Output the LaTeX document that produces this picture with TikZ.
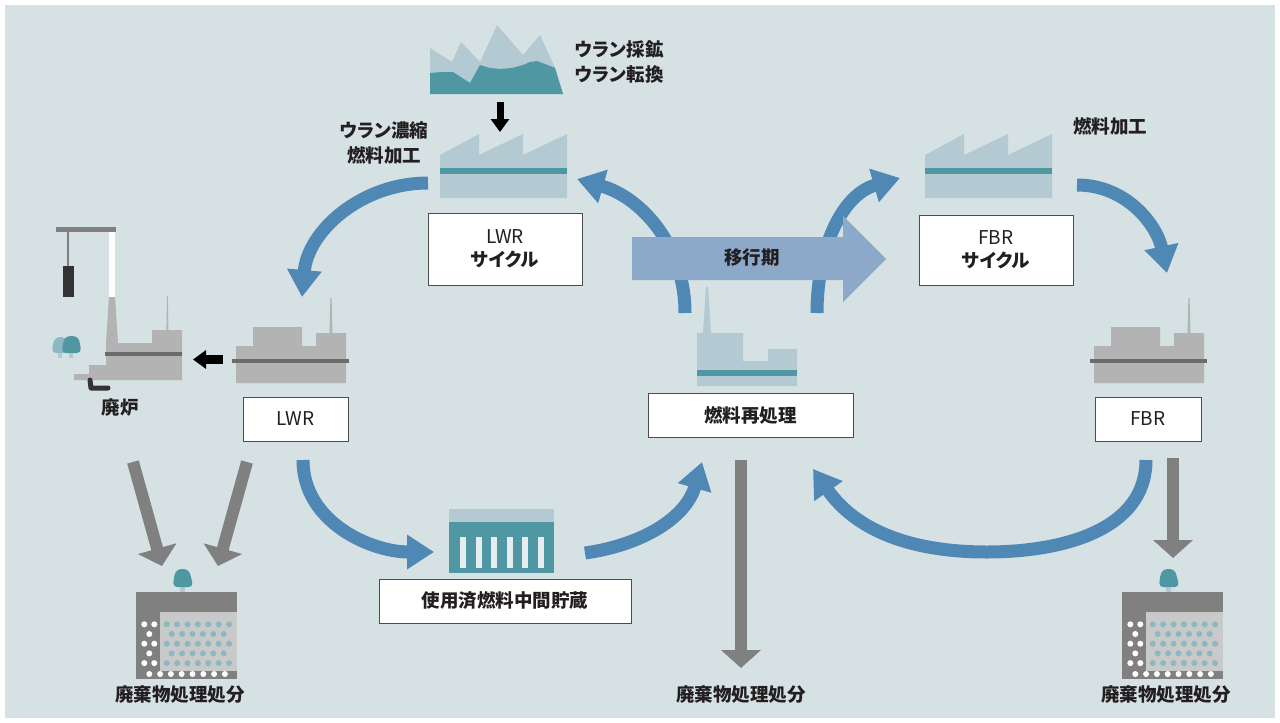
\documentclass[tikz,border=0pt]{standalone}
\usepackage{fontspec}
\setmainfont{Noto Sans CJK JP}[RawFeature={+palt}]
\usepackage{tikz}
\usetikzlibrary{arrows.meta, positioning}

\definecolor{panel}{HTML}{D6E1E3}
\definecolor{flowblue}{HTML}{4F87B5}
\definecolor{shiftblue}{HTML}{8CA9C9}
\definecolor{plantlight}{HTML}{B3CAD3}
\definecolor{plantteal}{HTML}{4F98A3}
\definecolor{treelight}{HTML}{8DB8C3}
\definecolor{reactorgray}{HTML}{B3B3B3}
\definecolor{reactorline}{HTML}{6B6B6B}
\definecolor{wastegray}{HTML}{808080}
\definecolor{vaultlight}{HTML}{C9C9C9}
\definecolor{dotteal}{HTML}{8AB8C4}
\definecolor{inkdark}{HTML}{231F20}

\newcommand{\labelfont}{\fontsize{19}{23}\selectfont}
\newcommand{\capfont}{\fontsize{18.5}{24.5}\selectfont\bfseries}

% fuel plant icon (saw-tooth roof)
\newcommand{\plantshape}{%
  \fill[plantlight] (440,198) -- (440,155) -- (479,134) -- (479,155) -- (523,134) -- (523,155)
    -- (567,134) -- (567,198) -- cycle;
  \fill[plantteal] (440,168) rectangle (567,174);}

% reactor building icon
\newcommand{\reactorshape}{%
  \fill[reactorgray] (236,383) -- (236,346) -- (253,346) -- (253,327) -- (302,327) -- (302,346)
    -- (316,346) -- (316,333) -- (346,333) -- (346,383) -- cycle;
  \fill[reactorgray] (329.5,333) -- (330.4,298) -- (331.6,298) -- (332.5,333) -- cycle;
  \fill[reactorline] (232,359) rectangle (349,363);}

% disposal vault icon
\newcommand{\vaultshape}{%
  \fill[wastegray] (136,592) rectangle (237,679);
  \fill[vaultlight] (160,612) rectangle (237,671);
  \foreach \r in {0,2,4} {
    \foreach \i in {0,...,6} \fill[dotteal] ({166.7+10.4*\i},{624.3+9.7*\r}) circle (3pt);
    \fill[white] (144.3,{624.3+9.7*\r}) circle (3pt) (154.3,{624.3+9.7*\r}) circle (3pt);
  }
  \foreach \r in {1,3} {
    \foreach \i in {0,...,5} \fill[dotteal] ({171.7+10.4*\i},{624.3+9.7*\r}) circle (3pt);
    \fill[white] (149.3,{624.3+9.7*\r}) circle (3pt);
  }
  \foreach \i in {0,...,7} \fill[white] ({149.3+10.8*\i},674) circle (3pt);
  \fill[plantlight] (180,584) rectangle (184.5,592);
  \fill[plantteal, rounded corners=4pt] (173,587) -- (174,576) -- (177,569) -- (188,569)
    -- (191,576) -- (193,587) -- cycle;}

\begin{document}
\begin{tikzpicture}[x=1pt, y=-1pt,
    flow/.style={draw=flowblue, line width=13pt, -{Triangle[width=33pt,length=27pt]}},
    waste/.style={draw=wastegray, line width=12pt, -{Triangle[width=39pt,length=18pt]}},
    push/.style={draw=black, -{Triangle[width=18pt,length=13pt]}},
    box/.style={rectangle, draw=black!70, line width=1pt, fill=white, inner sep=0pt, align=center, font=\labelfont, text=inkdark},
    caption/.style={inner sep=0pt, align=center, font=\capfont, text=inkdark}
]
\useasboundingbox (0,0) rectangle (1280,723);
\fill[white] (0,0) rectangle (1280,723);
\fill[panel] (5,5) rectangle (1275,718);

% mine
\fill[plantlight] (430,94) -- (430,48) -- (452,62) -- (461,42) -- (480,62) -- (497,25) -- (523,55)
  -- (540,35) -- (555,68) -- (563,94) -- cycle;
\fill[plantteal] (430,94) -- (430,73) -- (442,72) -- (453,72) -- (470,83) -- (480,65) -- (490,68)
  -- (500,69) -- (512,68) -- (523,65) -- (530,62) -- (537,61) -- (545,64) -- (555,68) -- (563,94) -- cycle;

% fuel plants
\plantshape
\begin{scope}[shift={(485,0)}]
  \plantshape
\end{scope}

% reactors
\reactorshape
\begin{scope}[shift={(858,0)}]
  \reactorshape
\end{scope}

% reprocessing plant
\fill[plantlight] (697,386) -- (697,333) -- (703,333) -- (706,287) -- (708,287) -- (711,333) -- (743,333)
  -- (743,361) -- (768,361) -- (768,349) -- (797,349) -- (797,386) -- cycle;
\fill[plantteal] (697,370) rectangle (797,376);

% interim storage cask
\fill[plantlight] (449,509) rectangle (554,522);
\fill[plantteal] (449,522) rectangle (554,573);
\foreach \sx in {460,475.5,491,506.5,522,537.5}
  \fill[panel!60!white] (\sx,537) rectangle ++(6,31);

% decommissioned reactor
\fill[wastegray] (56,227) rectangle (116,232);
\draw[wastegray, line width=1.2pt] (68,232) -- (68,266);
\fill[black!80] (63,266) rectangle (74,297);
\fill[white] (109,232) rectangle (115,297);
\fill[reactorgray] (109,297) -- (115,297) -- (118,343) -- (106,343) -- cycle;
\fill[reactorgray] (166.4,330) -- (167,296) -- (167.8,296) -- (168.4,330) -- cycle;
\fill[reactorgray] (106,343) -- (152,343) -- (152,330) -- (182,330) -- (182,380) -- (74,380)
  -- (74,374) -- (89,374) -- (89,365) -- (106,365) -- cycle;
\fill[reactorline] (105,352) rectangle (182,356);
\draw[black!80, line width=5pt, line cap=round, line join=round] (90,380) -- (91,388) -- (108,388);
\fill[plantlight] (58,351) rectangle (62,358);
\fill[treelight, rounded corners=4pt] (52,353) -- (53,343) -- (56,337) -- (65,337) -- (68,343) -- (69,353) -- cycle;
\fill[plantlight] (69,351) rectangle (73,358);
\fill[plantteal, rounded corners=4pt] (62,353) -- (63,342) -- (66,336) -- (77,336) -- (80,342) -- (81,353) -- cycle;

% disposal vaults
\vaultshape
\begin{scope}[shift={(986,0)}]
  \vaultshape
\end{scope}

% ends of the flows
\coordinate (mineout) at (500,102);
\coordinate (lwrplantin) at (500,132);
\coordinate (lwrplantout) at (428,183);
\coordinate (lwrin) at (302,297);
\coordinate (lwrout) at (223,359.5);
\coordinate (decomin) at (193,359.5);
\coordinate (reproleft) at (685,313);
\coordinate (lwrplantback) at (577,179);
\coordinate (reproright) at (817,313);
\coordinate (fbrplantin) at (900,178);
\coordinate (fbrplantout) at (1077,185);
\coordinate (fbrin) at (1167,273);
\coordinate (lwrspent) at (303,460);
\coordinate (storein) at (434,552);
\coordinate (storeout) at (585,553);
\coordinate (reproin) at (702,462);
\coordinate (fbrspent) at (1146,460);
\coordinate (fbrloop) at (987,552);
\coordinate (reproback) at (813,469);

% fuel cycle flows
\draw[push, line width=7pt] (mineout) -- (lwrplantin);
\draw[push, line width=9pt] (lwrout) -- (decomin);
\draw[flow] (lwrplantout) to[out=180, in=85] (lwrin);
\draw[flow] (reproleft) to[out=90, in=-16] (lwrplantback);
\draw[flow] (reproright) to[out=90, in=-164] (fbrplantin);
\draw[flow] (fbrplantout) to[out=0, in=102] (fbrin);
\draw[flow] (lwrspent) to[out=-90, in=180] (storein);
\draw[flow] (storeout) to[out=8, in=-106] (reproin);
\draw[flow] (fbrspent) to[out=-90, in=0] (fbrloop) to[out=180, in=-55] (reproback);

% transition period
\fill[shiftblue] (632,237) -- (843,237) -- (843,216) -- (886,259) -- (843,302) -- (843,280) -- (632,280) -- cycle;
\node[caption] (transition) at (752,258) {移行期};

% waste flows
\coordinate (decomwaste) at (133,462);
\coordinate (lwrwaste) at (247,462);
\coordinate (leftvault) at (162,566);
\coordinate (leftvault2) at (218,566);
\coordinate (reprowaste) at (741,460);
\coordinate (midsink) at (741,668);
\coordinate (fbrwaste) at (1173,458);
\coordinate (rightvault) at (1173,558);
\draw[waste] (decomwaste) -- (leftvault);
\draw[waste] (lwrwaste) -- (leftvault2);
\draw[waste] (reprowaste) -- (midsink);
\draw[waste] (fbrwaste) -- (rightvault);

% boxes
\node[box, minimum width=154pt, minimum height=72pt] (lwrcycle) at (505,249) {LWR\\\textbf{\fontsize{18.5}{23}\selectfont サイクル}};
\node[box, minimum width=154pt, minimum height=70pt] (fbrcycle) at (996,250) {FBR\\\textbf{\fontsize{18.5}{23}\selectfont サイクル}};
\node[box, minimum width=105pt, minimum height=44pt] (lwr) at (295.5,419) {LWR};
\node[box, minimum width=106pt, minimum height=44pt] (fbr) at (1148,419) {FBR};
\node[box, minimum width=205pt, minimum height=44pt, font=\capfont] (repro) at (750.5,415) {燃料再処理};
\node[box, minimum width=252pt, minimum height=44pt, font=\capfont] (storage) at (505,601) {使用済燃料中間貯蔵};

% captions
\node[caption, align=left, anchor=west] (mining) at (575,62) {ウラン採鉱\\ウラン転換};
\node[caption] (enrich) at (384,143) {ウラン濃縮\\燃料加工};
\node[caption] (fbrfab) at (1110,126) {燃料加工};
\node[caption] (decom) at (120,408) {廃炉};
\node[caption] (disposal1) at (180,695) {廃棄物処理処分};
\node[caption] (disposal2) at (741,695) {廃棄物処理処分};
\node[caption] (disposal3) at (1166,695) {廃棄物処理処分};
\end{tikzpicture}
\end{document}
